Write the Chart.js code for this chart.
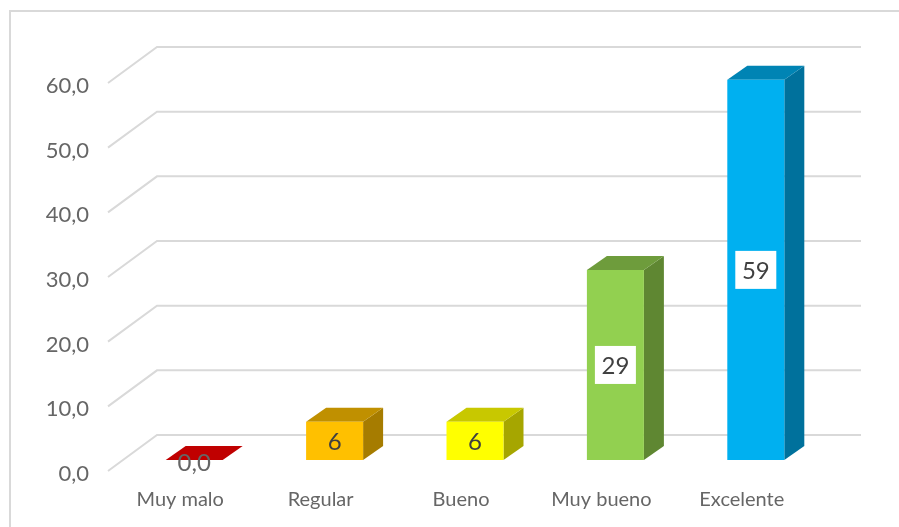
<!DOCTYPE html>
<html>
<head>
<meta charset="utf-8">
<style>
  html, body { margin: 0; padding: 0; background: #fff; overflow: hidden; }
  #wrap { width: 899px; height: 527px; }
</style>
<script src="https://cdn.jsdelivr.net/npm/chart.js@4/dist/chart.umd.min.js"></script>
</head>
<body>
<div id="wrap"><canvas id="chart" width="899" height="527"></canvas></div>
<script>
// data
const categories = ['Muy malo', 'Regular', 'Bueno', 'Muy bueno', 'Excelente'];
const values = [0, 5.9, 5.9, 29.4, 58.8];
const valueLabels = ['0,0', '6', '6', '29', '59'];
const labelBoxes = [false, false, false, true, true];

const frontColors = ['#c00000', '#ffc000', '#ffff00', '#92d050', '#00b0f0'];
const topColors = ['#c00000', '#c09000', '#c8c800', '#6e9c3c', '#0084b4'];
const sideColors = ['#900000', '#a67c00', '#a6a600', '#5f8732', '#00719c'];

// depth of the floor / walls and of the boxes
const WALL = { dx: 49, dy: 36 };
const SHIFT = { dx: 14, dy: 11 };
const BOX = { dx: 20, dy: 14 };

function poly(ctx, pts, color) {
    ctx.fillStyle = color;
    ctx.beginPath();
    pts.forEach((p, i) => i ? ctx.lineTo(p[0], p[1]) : ctx.moveTo(p[0], p[1]));
    ctx.closePath();
    ctx.fill();
}

const frame3d = {
    id: 'frame3d',
    beforeDraw(chart) {
        const { ctx, chartArea: a, scales: { y } } = chart;
        ctx.save();
        // outer chart border
        ctx.strokeStyle = '#d9d9d9';
        ctx.lineWidth = 2;
        ctx.beginPath();
        ctx.moveTo(10, 527);
        ctx.lineTo(10, 11);
        ctx.lineTo(899, 11);
        ctx.stroke();
        // gridlines: short diagonal on the side wall, then along the back wall
        y.ticks.forEach(t => {
            const py = y.getPixelForValue(t.value);
            ctx.beginPath();
            ctx.moveTo(a.left - 2, py);
            ctx.lineTo(a.left - 2 + WALL.dx, py - WALL.dy);
            ctx.lineTo(a.right + WALL.dx, py - WALL.dy);
            ctx.stroke();
        });
        ctx.restore();
    },
    beforeDatasetsDraw(chart) {
        const { ctx } = chart;
        chart.getDatasetMeta(0).data.forEach((bar, i) => {
            const l = bar.x - bar.width / 2 + SHIFT.dx;
            const r = bar.x + bar.width / 2 + SHIFT.dx;
            const t = bar.y - SHIFT.dy;
            const b = bar.base - SHIFT.dy;
            poly(ctx, [[r, t], [r + BOX.dx, t - BOX.dy], [r + BOX.dx, b - BOX.dy], [r, b]], sideColors[i]);
            poly(ctx, [[l, t], [l + BOX.dx, t - BOX.dy], [r + BOX.dx, t - BOX.dy], [r, t]], topColors[i]);
        });
        // native bars become the front faces, moved in from the front of the floor
        ctx.save();
        ctx.translate(SHIFT.dx, -SHIFT.dy);
    },
    afterDatasetsDraw(chart) {
        const { ctx } = chart;
        ctx.restore();
        ctx.save();
        ctx.font = '24px Lato';
        ctx.textAlign = 'center';
        ctx.textBaseline = 'middle';
        chart.getDatasetMeta(0).data.forEach((bar, i) => {
            const cx = bar.x + SHIFT.dx;
            const cy = (bar.y + bar.base) / 2 - SHIFT.dy + (values[i] === 0 ? 2 : 0);
            if (labelBoxes[i]) {
                ctx.fillStyle = '#fff';
                ctx.fillRect(cx - 20.5, cy - 19, 41, 38);
            }
            ctx.fillStyle = values[i] === 0 ? '#666666' : '#404040';
            ctx.fillText(valueLabels[i], cx, cy + 1);
        });
        ctx.restore();
    }
};

new Chart(document.getElementById('chart'), {
    type: 'bar',
    data: {
        labels: categories,
        datasets: [{
            data: values,
            backgroundColor: frontColors,
            borderWidth: 0,
            barPercentage: 0.406,
            categoryPercentage: 1,
            clip: false
        }]
    },
    options: {
        responsive: false,
        animation: false,
        events: [],
        layout: { padding: { top: 83, right: 87, left: 0, bottom: 0 } },
        plugins: { legend: { display: false }, tooltip: { enabled: false } },
        scales: {
            x: {
                grid: { display: false },
                border: { display: false },
                afterFit(s) { s.height = 56; },
                ticks: { color: '#666666', padding: 9, maxRotation: 0, font: { family: 'Lato', size: 20 } }
            },
            y: {
                min: 0,
                max: 60,
                grid: { display: false },
                border: { display: false },
                afterFit(s) { s.width = 110; },
                ticks: {
                    stepSize: 10,
                    color: '#666666',
                    padding: 13,
                    labelOffset: 3,
                    font: { family: 'Lato', size: 22 },
                    callback: v => v.toFixed(1).replace('.', ',')
                }
            }
        }
    },
    plugins: [frame3d]
});
</script>
</body>
</html>
